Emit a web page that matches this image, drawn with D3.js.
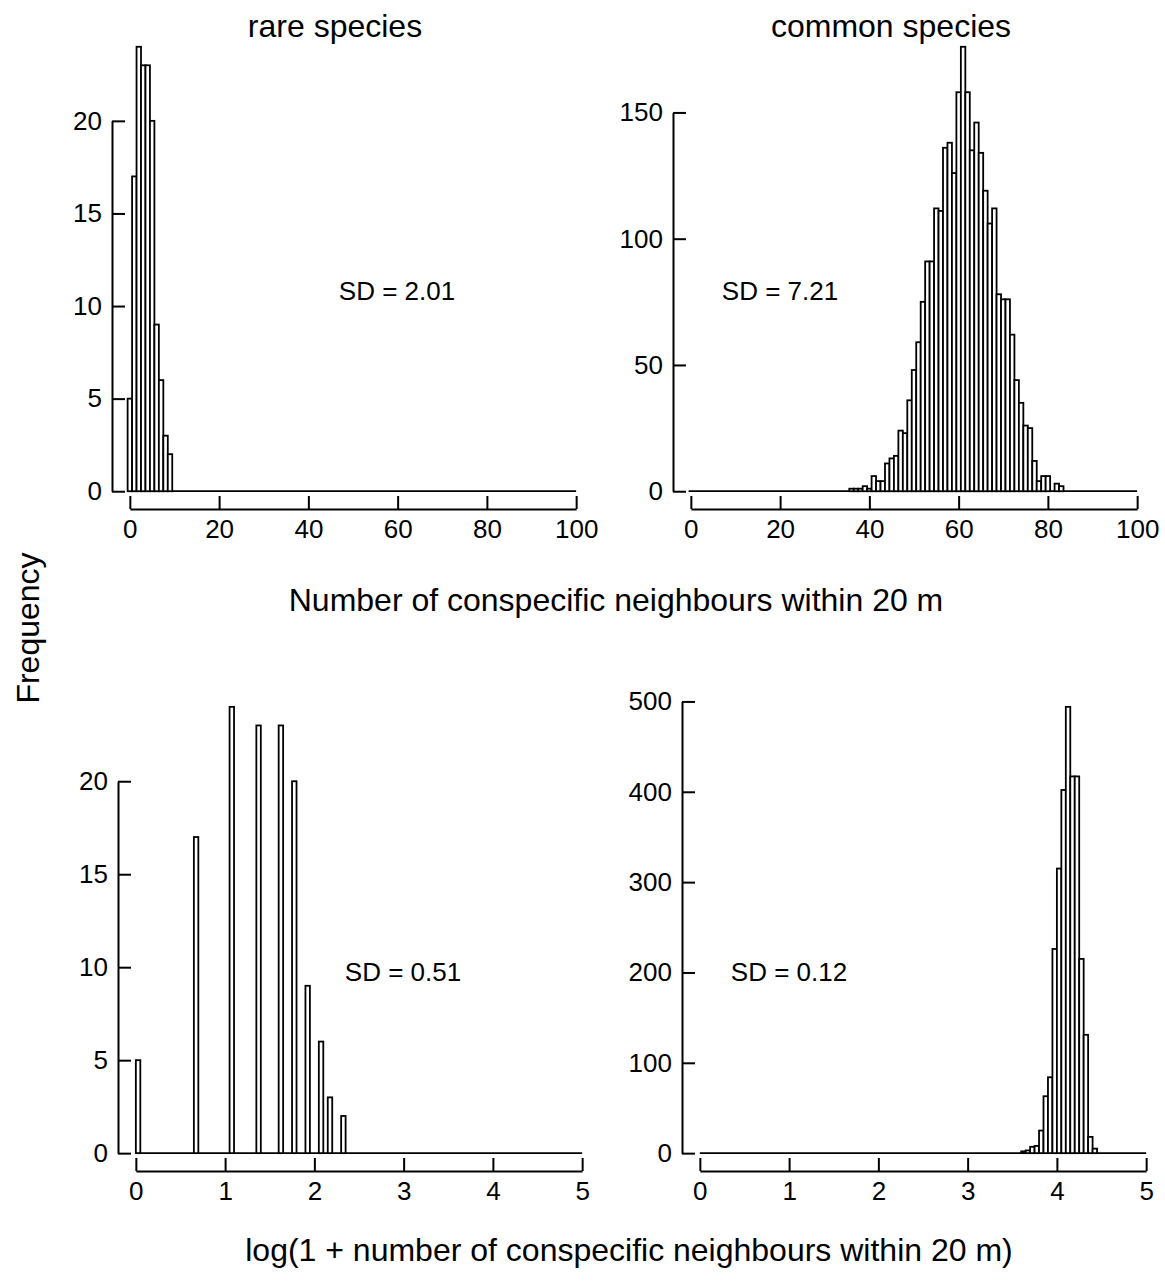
<!DOCTYPE html>
<html>
<head>
<meta charset="utf-8">
<script src="https://cdn.jsdelivr.net/npm/d3@7"></script>
<style>
body { margin: 0; background: #fff; }
svg { display: block; font-family: "Liberation Sans", Arial, Helvetica, sans-serif; }
.bar { fill: #fff; stroke: #000; stroke-width: 1.8; }
.base { stroke: #000; stroke-width: 1.8; }
.axis path, .axis line { stroke: #000; stroke-width: 2; }
.axis text { fill: #000; }
</style>
</head>
<body>
<div id="chart"></div>
<script>
// histogram counts
const rareNeighbours = [0, 1, 2, 3, 4, 5, 6, 7, 8, 9];
const rareCounts = [5, 17, 24, 23, 23, 20, 9, 6, 3, 2];

const commonNeighbours = [36, 37, 38, 39, 40, 41, 42, 43, 44, 45, 46, 47, 48, 49, 50, 51,
    52, 53, 54, 55, 56, 57, 58, 59, 60, 61, 62, 63, 64, 65, 66, 67, 68, 69, 70, 71, 72,
    73, 74, 75, 76, 77, 78, 79, 80, 81, 82, 83];
const commonCounts = [1, 1, 1, 2, 1, 6, 4, 4, 11, 13, 14, 24, 23, 36, 48, 59, 75, 91, 91,
    112, 111, 136, 138, 126, 158, 176, 158, 135, 146, 134, 119, 106, 112, 78, 76, 76, 62,
    44, 35, 26, 25, 12, 4, 6, 6, 0, 3, 2];

// log(1 + n) histograms: left edge of each 0.05 wide bin
const rareLogBins = [0, 0.65, 1.05, 1.35, 1.60, 1.75, 1.90, 2.05, 2.15, 2.30];
const rareLogCounts = [5, 17, 24, 23, 23, 20, 9, 6, 3, 2];

const commonLogBins = [3.60, 3.65, 3.70, 3.75, 3.80, 3.85, 3.90, 3.95, 4.00, 4.05, 4.10,
    4.15, 4.20, 4.25, 4.30, 4.35, 4.40];
const commonLogCounts = [2, 3, 7, 8, 25, 63, 84, 226, 315, 402, 494, 417, 417, 215, 131, 18, 5];

const countXTicks = [0, 20, 40, 60, 80, 100];
const logXTicks = [0, 1, 2, 3, 4, 5];
const rareYTicks = [0, 5, 10, 15, 20];
const commonYTicks = [0, 50, 100, 150];
const commonLogYTicks = [0, 100, 200, 300, 400, 500];

const titles = ["rare species", "common species"];
const sdLabels = ["SD = 2.01", "SD = 7.21", "SD = 0.51", "SD = 0.12"];
const xLabels = ["Number of conspecific neighbours within 20 m",
    "log(1 + number of conspecific neighbours within 20 m)"];
const yLabel = "Frequency";

const width = 1165, height = 1282;
const tickFont = 26, labelFont = 32;

let svg = d3.select("#chart").append("svg")
    .attr("width", width)
    .attr("height", height);

// turn centres / left edges into bins
const countBins = (cats, counts) => cats.map((n, i) => ({x0: n - 0.5, x1: n + 0.5, count: counts[i]}));
const logBins = (edges, counts) => edges.map((e, i) => ({x0: e, x1: e + 0.05, count: counts[i]}));

const panels = [
    {bins: countBins(rareNeighbours, rareCounts), xTicks: countXTicks, yTicks: rareYTicks,
        base: [-0.5, 100], box: {l: 112, t: 29, r: 594, b: 509}, sd: sdLabels[0], sdAt: [397, 291]},
    {bins: countBins(commonNeighbours, commonCounts), xTicks: countXTicks, yTicks: commonYTicks,
        base: [-0.5, 100], box: {l: 673, t: 29, r: 1155, b: 509}, sd: sdLabels[1], sdAt: [780, 291]},
    {bins: logBins(rareLogBins, rareLogCounts), xTicks: logXTicks, yTicks: rareYTicks,
        base: [0, 5], box: {l: 118, t: 689, r: 600, b: 1171}, sd: sdLabels[2], sdAt: [403, 972]},
    {bins: logBins(commonLogBins, commonLogCounts), xTicks: logXTicks, yTicks: commonLogYTicks,
        base: [0, 5], box: {l: 682, t: 689, r: 1164, b: 1171}, sd: sdLabels[3], sdAt: [789, 972]}
];

panels.forEach(function(p) {
    // R style: 4% padding on both ends of each axis
    let xMin = p.xTicks[0], xMax = p.xTicks[p.xTicks.length - 1];
    let xPad = (xMax - xMin) * 0.04;
    let x = d3.scaleLinear().domain([xMin - xPad, xMax + xPad]).range([p.box.l, p.box.r]);

    let yMax = d3.max(p.bins, d => d.count);
    let y = d3.scaleLinear().domain([-yMax * 0.04, yMax * 1.04]).range([p.box.b, p.box.t]);

    let g = svg.append("g");

    // baseline of the empty bins
    g.append("line")
        .attr("class", "base")
        .attr("x1", x(p.base[0]))
        .attr("x2", x(p.base[1]))
        .attr("y1", y(0))
        .attr("y2", y(0));

    g.selectAll("rect.bar")
        .data(p.bins.filter(d => d.count > 0))
        .join("rect")
        .attr("class", "bar")
        .attr("x", d => x(d.x0))
        .attr("width", d => x(d.x1) - x(d.x0))
        .attr("y", d => y(d.count))
        .attr("height", d => y(0) - y(d.count));

    // axis lines only span the first to last tick
    let yLast = p.yTicks[p.yTicks.length - 1];
    let yAxisScale = d3.scaleLinear().domain([0, yLast]).range([y(0), y(yLast)]);
    g.append("g")
        .attr("class", "axis")
        .attr("transform", "translate(" + p.box.l + ",0)")
        .call(d3.axisLeft(yAxisScale).tickValues(p.yTicks).tickFormat(d => d)
            .tickSize(-13).tickSizeOuter(0).tickPadding(10))
        .attr("font-size", tickFont)
        .attr("font-family", null);

    let xAxisScale = d3.scaleLinear().domain([xMin, xMax]).range([x(xMin), x(xMax)]);
    g.append("g")
        .attr("class", "axis")
        .attr("transform", "translate(0," + p.box.b + ")")
        .call(d3.axisBottom(xAxisScale).tickValues(p.xTicks).tickFormat(d => d)
            .tickSize(-13).tickSizeOuter(0).tickPadding(11))
        .attr("font-size", tickFont)
        .attr("font-family", null);

    g.append("text")
        .attr("x", p.sdAt[0])
        .attr("y", p.sdAt[1])
        .attr("dy", "0.35em")
        .attr("text-anchor", "middle")
        .attr("font-size", tickFont)
        .text(p.sd);
});

// panel titles
svg.selectAll("text.title")
    .data(titles)
    .join("text")
    .attr("class", "title")
    .attr("x", (d, i) => [335, 891][i])
    .attr("y", 26)
    .attr("dy", "0.35em")
    .attr("text-anchor", "middle")
    .attr("font-size", labelFont)
    .text(d => d);

svg.selectAll("text.xlabel")
    .data(xLabels)
    .join("text")
    .attr("class", "xlabel")
    .attr("x", (d, i) => [616, 629][i])
    .attr("y", (d, i) => [600, 1250][i])
    .attr("dy", "0.35em")
    .attr("text-anchor", "middle")
    .attr("font-size", labelFont)
    .text(d => d);

svg.append("text")
    .attr("transform", "translate(28,628) rotate(-90)")
    .attr("dy", "0.35em")
    .attr("text-anchor", "middle")
    .attr("font-size", labelFont)
    .text(yLabel);
</script>
</body>
</html>
